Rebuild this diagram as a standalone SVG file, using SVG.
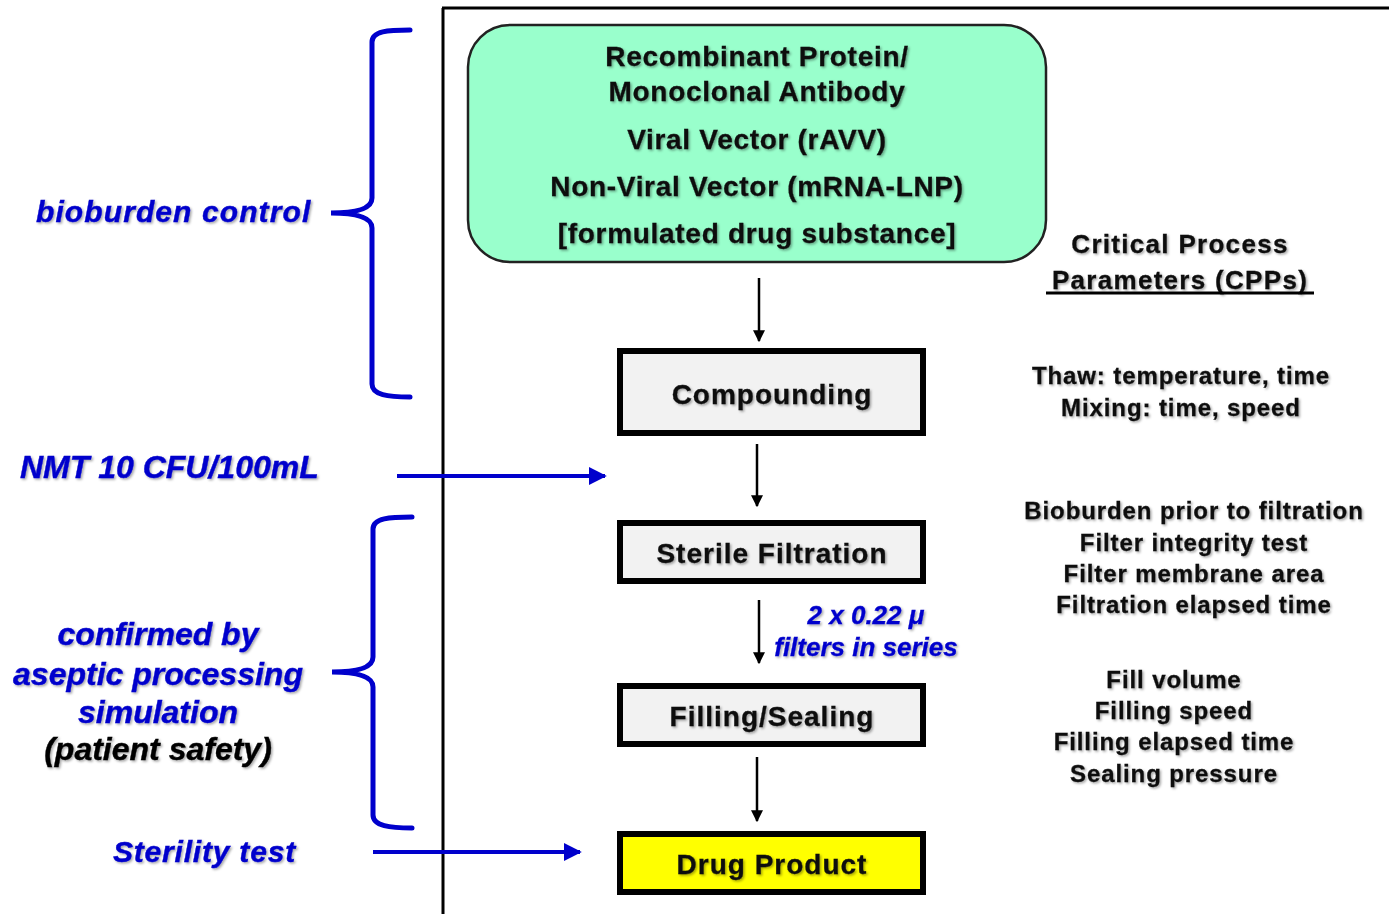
<svg xmlns="http://www.w3.org/2000/svg" width="1389" height="914" viewBox="0 0 1389 914">
  <defs>
    <filter id="shadow" x="-10%" y="-20%" width="120%" height="150%">
      <feDropShadow dx="1.5" dy="1.5" stdDeviation="0.8" flood-color="#000" flood-opacity="0.35"/>
    </filter>
    <marker id="headBlack" viewBox="0 0 10 10" refX="9" refY="5" markerWidth="12" markerHeight="12" markerUnits="userSpaceOnUse" orient="auto">
      <path d="M0,0 L10,5 L0,10 Z" fill="#000"/>
    </marker>
    <marker id="headBlue" viewBox="0 0 10 10" refX="9" refY="5" markerWidth="18" markerHeight="18" markerUnits="userSpaceOnUse" orient="auto">
      <path d="M0,0 L10,5 L0,10 Z" fill="#0000CC"/>
    </marker>
  </defs>
  <style>
    text { font-family: "Liberation Sans", Arial, sans-serif; font-weight: bold; }
    .dark { fill: #111; stroke: #111; stroke-width: 0.3; filter: url(#shadow); }
    .src { font-size: 28px; letter-spacing: 0.7px; text-anchor: middle; }
    .step { font-size: 28px; letter-spacing: 1px; text-anchor: middle; }
    .cpp { font-size: 24px; letter-spacing: 0.9px; text-anchor: middle; }
    .head { font-size: 26px; letter-spacing: 1.3px; text-anchor: middle; }
    .note { font-size: 32px; font-style: italic; fill: #0000CC; stroke: #0000CC; stroke-width: 0.4; filter: url(#shadow); }
    .note2 { font-size: 26px; font-style: italic; fill: #0000CC; stroke: #0000CC; stroke-width: 0.3; filter: url(#shadow); text-anchor: middle; }
    .box { fill: #F2F2F2; stroke: #000; stroke-width: 6; }
    .flow { stroke: #000; stroke-width: 2.5; fill: none; marker-end: url(#headBlack); }
    .blue { stroke: #0000CC; stroke-width: 4; fill: none; marker-end: url(#headBlue); }
    .brace { stroke: #0000CC; stroke-width: 5; fill: none; stroke-linecap: round; }
  </style>

  <!-- frame -->
  <g id="frame">
    <line x1="443" y1="8" x2="443" y2="914" stroke="#000" stroke-width="3"/>
    <line x1="442" y1="8" x2="1389" y2="8" stroke="#000" stroke-width="3"/>
  </g>

  <!-- drug substance -->
  <g id="substance">
    <rect x="468" y="25" width="578" height="237" rx="42" ry="42" fill="#99FFCC" stroke="#222" stroke-width="2.5"/>
    <text class="src dark" x="757" y="66">Recombinant Protein/</text>
    <text class="src dark" x="757" y="101">Monoclonal Antibody</text>
    <text class="src dark" x="757" y="149">Viral Vector (rAVV)</text>
    <text class="src dark" x="757" y="196">Non-Viral Vector (mRNA-LNP)</text>
    <text class="src dark" x="757" y="243">[formulated drug substance]</text>
  </g>

  <g id="compounding">
    <rect class="box" x="620" y="351" width="303" height="82"/>
    <text class="step dark" x="772" y="404">Compounding</text>
  </g>

  <g id="filtration">
    <rect class="box" x="620" y="523" width="303" height="58"/>
    <text class="step dark" x="772" y="563">Sterile Filtration</text>
  </g>

  <g id="filling">
    <rect class="box" x="620" y="686" width="303" height="58"/>
    <text class="step dark" x="772" y="726">Filling/Sealing</text>
  </g>

  <g id="product">
    <rect x="620" y="834" width="303" height="58" fill="#FFFF00" stroke="#000" stroke-width="6"/>
    <text class="step dark" x="772" y="874">Drug Product</text>
  </g>

  <!-- connectors -->
  <g id="connectors">
    <line class="flow" x1="759" y1="278" x2="759" y2="341"/>
    <line class="flow" x1="757" y1="444" x2="757" y2="506"/>
    <line class="flow" x1="759" y1="600" x2="759" y2="663"/>
    <line class="flow" x1="757" y1="757" x2="757" y2="821"/>
    <line class="blue" x1="397" y1="476" x2="605" y2="476"/>
    <line class="blue" x1="373" y1="852" x2="580" y2="852"/>
  </g>

  <!-- filter note -->
  <g id="filter-note">
    <text class="note2" x="866" y="624">2 x 0.22 μ</text>
    <text class="note2" x="866" y="656">filters in series</text>
  </g>

  <!-- brackets and left notes -->
  <g id="bioburden">
    <path class="brace" d="M410,30 C388,30 372,31 372,42 L372,198 C372,209 355,213 331,213 C355,213 372,217 372,228 L372,384 C372,395 388,397 410,397"/>
    <text class="note" x="36" y="222" style="font-size:30px" letter-spacing="1.1">bioburden control</text>
  </g>

  <g id="nmt">
    <text class="note" x="20" y="478">NMT 10 CFU/100mL</text>
  </g>

  <g id="aseptic">
    <path class="brace" d="M412,517 C390,517 373,518 373,529 L373,657 C373,668 356,672 332,672 C356,672 373,676 373,687 L373,815 C373,826 390,828 412,828"/>
    <text class="note" x="158" y="645" text-anchor="middle">confirmed by</text>
    <text class="note" x="158" y="685" text-anchor="middle">aseptic processing</text>
    <text class="note" x="158" y="723" text-anchor="middle">simulation</text>
    <text class="note" x="158" y="760" text-anchor="middle" style="fill:#000;stroke:#000">(patient safety)</text>
  </g>

  <g id="sterility">
    <text class="note" x="113" y="862" style="font-size:30px" letter-spacing="0.8">Sterility test</text>
  </g>

  <!-- critical process parameters -->
  <g id="cpp-title">
    <text class="head dark" x="1180" y="253">Critical Process</text>
    <text class="head dark" x="1180" y="289">Parameters (CPPs)</text>
    <line x1="1046" y1="293" x2="1314" y2="293" stroke="#000" stroke-width="3"/>
  </g>

  <g id="cpp-compounding">
    <text class="cpp dark" x="1181" y="384">Thaw: temperature, time</text>
    <text class="cpp dark" x="1181" y="416">Mixing: time, speed</text>
  </g>

  <g id="cpp-filtration">
    <text class="cpp dark" x="1194" y="519">Bioburden prior to filtration</text>
    <text class="cpp dark" x="1194" y="551">Filter integrity test</text>
    <text class="cpp dark" x="1194" y="582">Filter membrane area</text>
    <text class="cpp dark" x="1194" y="613">Filtration elapsed time</text>
  </g>

  <g id="cpp-filling">
    <text class="cpp dark" x="1174" y="688">Fill volume</text>
    <text class="cpp dark" x="1174" y="719">Filling speed</text>
    <text class="cpp dark" x="1174" y="750">Filling elapsed time</text>
    <text class="cpp dark" x="1174" y="782">Sealing pressure</text>
  </g>
</svg>
